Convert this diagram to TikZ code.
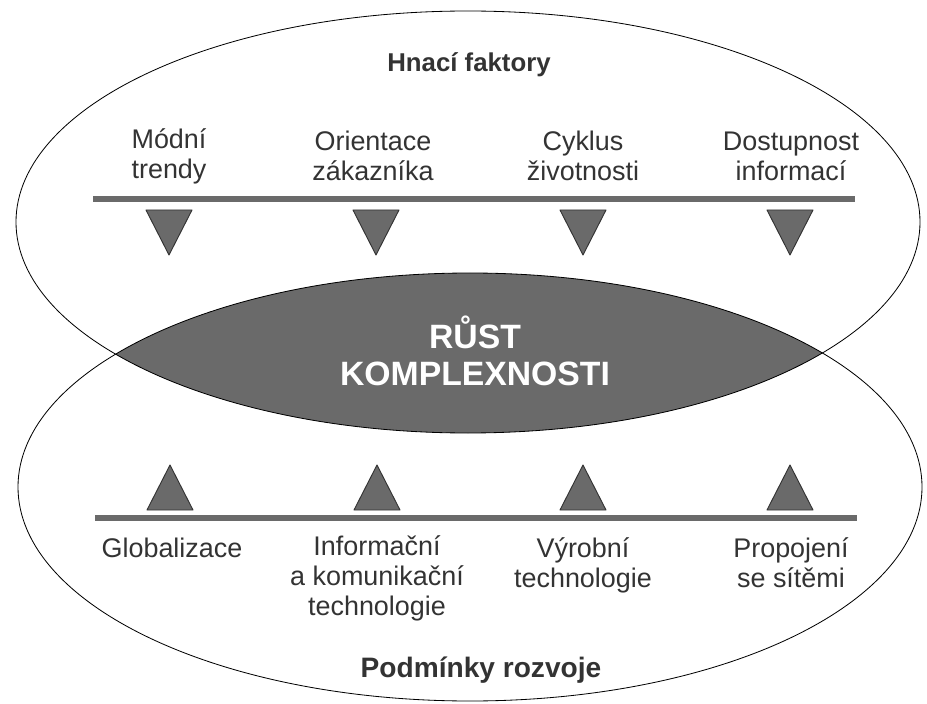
\documentclass[tikz,border=0pt]{standalone}
\usepackage{fontspec}
\setmainfont{Liberation Sans}
\usetikzlibrary{shapes.geometric}
\definecolor{darkfill}{HTML}{6A6A6A}
\definecolor{inkgray}{HTML}{333333}
\tikzset{
    factor/.style={align=center, text=inkgray, inner sep=0pt, font=\fontsize{23}{25.5}\selectfont},
    heading/.style={text=inkgray, inner sep=0pt, anchor=base, font=\bfseries\fontsize{22}{24}\selectfont},
    bar/.style={draw=darkfill, line width=5pt},
    tri/.style={draw=inkgray, fill=darkfill, line width=0.8pt, line join=round},
    oval/.style={draw=black, line width=0.7pt}
}

\begin{document}
\begin{tikzpicture}[x=0.3mm, y=-0.3mm]
    \useasboundingbox (0,0) rectangle (927,704);

    % two ovals and their common lens
    \begin{scope}
        \clip (468,222) ellipse [x radius=452, y radius=211];
        \fill[darkfill] (470,487) ellipse [x radius=452, y radius=214];
    \end{scope}
    \draw[oval] (468,222) ellipse [x radius=452, y radius=211];
    \draw[oval] (470,487) ellipse [x radius=452, y radius=214];

    \node[font=\bfseries\fontsize{28.8}{31.6}\selectfont, text=white, align=center, inner sep=0pt] (rust) at (475,351) {RŮST\\KOMPLEXNOSTI};

    % upper half
    \node[heading] (hnaci) at (469,72) {Hnací faktory};
    \node[factor] (modni) at (169,156) {Módní\\trendy};
    \node[factor] (orient) at (373,156) {Orientace\\zákazníka};
    \node[factor] (cyklus) at (583,156) {Cyklus\\životnosti};
    \node[factor] (dostup) at (791,156) {Dostupnost\\informací};
    \draw[bar] (93,199) -- (855,199);
    \foreach \x in {169,376,583,790}
        \draw[tri] (\x-23,210) -- (\x+23,210) -- (\x,255) -- cycle;

    % lower half
    \foreach \x in {170,377,583,790}
        \draw[tri] (\x-23,510) -- (\x+23,510) -- (\x,465) -- cycle;
    \draw[bar] (95,518) -- (857,518);
    \node[factor] (glob) at (172,548) {Globalizace};
    \node[factor] (ikt) at (377,578) {Informační\\a komunikační\\technologie};
    \node[factor] (vyrob) at (583,565) {Výrobní\\technologie};
    \node[factor] (propoj) at (791,563) {Propojení\\se sítěmi};
    \node[heading, font=\bfseries\fontsize{24}{26}\selectfont] (podm) at (481,677) {Podmínky rozvoje};
\end{tikzpicture}
\end{document}
